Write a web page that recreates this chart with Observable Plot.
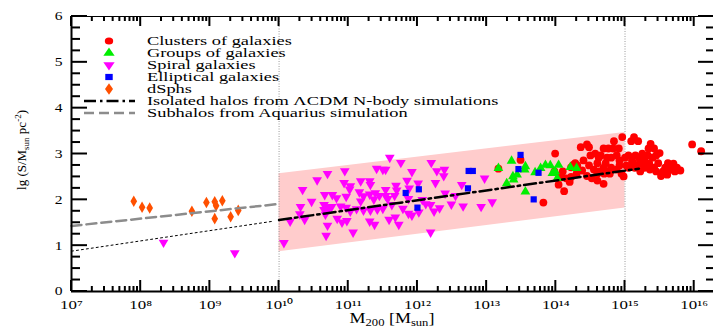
<!DOCTYPE html>
<html><head><meta charset="utf-8">
<script src="https://cdn.jsdelivr.net/npm/d3@7"></script>
<script src="https://cdn.jsdelivr.net/npm/@observablehq/plot@0.6"></script>
<style>
html,body{margin:0;padding:0;background:#fff;}
#chart{position:relative;width:713px;height:329px;overflow:hidden;}
</style></head><body><div id="chart"></div>
<script>
// ---- data: [log10 M200 (Msun), lg S (Msun pc^-2)] ----
const clusters = [[13.17,2.68],[13.49,2.87],[13.82,1.94],[13.99,3.01],[13.98,2.62],[14.04,2.33],[14.07,2.49],[14.12,2.19],[14.20,2.39],[14.22,2.50],[14.22,2.71],[14.28,2.80],[14.31,2.75],[14.36,3.15],[14.38,2.64],[14.40,2.86],[14.45,3.21],[14.48,3.15],[14.48,2.75],[14.50,2.97],[14.52,2.47],[14.55,2.66],[14.57,3.01],[14.60,2.80],[14.60,2.57],[14.60,2.42],[14.62,2.92],[14.62,2.62],[14.65,2.97],[14.69,3.12],[14.69,2.70],[14.69,2.35],[14.70,2.57],[14.72,2.80],[14.74,2.92],[14.75,2.62],[14.76,3.12],[14.78,2.57],[14.80,2.92],[14.80,2.70],[14.83,3.12],[14.84,3.28],[14.88,2.97],[14.88,2.66],[14.91,3.12],[14.92,2.86],[14.92,2.75],[14.95,2.57],[14.96,3.37],[14.98,2.51],[15.00,2.92],[15.02,2.75],[15.05,2.97],[15.05,2.70],[15.09,3.28],[15.10,2.86],[15.12,2.80],[15.13,3.37],[15.14,2.70],[15.15,2.97],[15.18,2.75],[15.19,3.28],[15.20,2.92],[15.22,2.80],[15.22,2.62],[15.25,3.01],[15.28,2.86],[15.28,2.70],[15.30,2.75],[15.33,2.97],[15.34,3.12],[15.35,2.80],[15.36,2.66],[15.37,3.22],[15.40,2.92],[15.42,3.12],[15.42,2.70],[15.45,2.97],[15.45,2.62],[15.48,2.80],[15.50,3.02],[15.52,2.52],[15.55,2.62],[15.58,2.70],[15.60,2.57],[15.61,2.55],[15.62,2.80],[15.67,2.66],[15.70,2.79],[15.72,2.62],[15.75,2.70],[15.80,2.64],[15.97,3.21],[16.10,3.06],[14.10,2.62],[14.05,2.52],[14.15,2.47],[14.30,2.57],[14.45,2.52],[14.30,2.69],[14.25,2.76]];
const groups = [[13.17,2.69],[13.29,2.36],[13.36,2.85],[13.38,2.51],[13.39,2.44],[13.44,2.55],[13.55,2.66],[13.56,2.73],[13.56,2.18],[13.70,2.60],[13.78,2.69],[13.85,2.76],[13.92,2.75],[13.95,2.58],[13.99,2.62],[14.02,2.47],[14.04,2.76],[14.21,2.71],[14.30,2.69]];
const spirals = [[8.33,1.07],[9.36,0.84],[10.07,1.06],[10.16,1.53],[10.30,1.69],[10.31,1.85],[10.34,2.22],[10.37,1.57],[10.47,1.96],[10.55,2.43],[10.65,1.89],[10.65,1.78],[10.66,2.11],[10.67,1.68],[10.68,1.22],[10.69,1.83],[10.70,2.57],[10.70,1.44],[10.72,1.80],[10.76,1.85],[10.77,2.11],[10.83,2.04],[10.84,1.59],[10.89,1.86],[10.91,1.51],[10.94,2.37],[10.95,2.63],[10.97,2.07],[10.97,1.83],[10.98,1.54],[11.02,2.23],[11.03,2.30],[11.03,1.75],[11.07,1.29],[11.12,1.80],[11.16,2.17],[11.18,2.41],[11.18,1.97],[11.22,2.08],[11.22,1.77],[11.31,2.41],[11.31,2.12],[11.31,1.53],[11.32,2.33],[11.32,1.77],[11.37,2.01],[11.38,1.46],[11.39,2.15],[11.41,2.68],[11.42,1.79],[11.45,2.09],[11.50,2.66],[11.50,1.81],[11.54,2.66],[11.54,2.22],[11.54,2.09],[11.57,2.02],[11.59,1.57],[11.60,2.92],[11.63,1.89],[11.67,2.09],[11.68,1.62],[11.69,2.31],[11.70,2.21],[11.73,1.46],[11.76,2.81],[11.79,1.81],[11.85,2.42],[11.87,2.02],[11.87,1.70],[11.88,2.25],[11.92,2.61],[11.92,1.66],[12.01,2.36],[12.02,1.73],[12.07,2.00],[12.12,1.91],[12.19,1.89],[12.19,1.29],[12.20,2.81],[12.24,1.75],[12.26,2.37],[12.28,2.63],[12.32,1.82],[12.38,2.52],[12.39,2.66],[12.40,2.14],[12.49,1.90],[12.55,2.09],[12.64,2.33],[12.66,1.86],[12.92,1.85],[12.97,2.47],[13.08,1.95]];
const ellipticals = [[11.83,2.15],[12.00,1.83],[12.02,2.23],[12.73,2.25],[12.74,2.63],[12.80,2.63],[13.46,2.67],[13.49,2.98],[13.68,2.01],[13.75,2.59]];
const dsphs = [[7.90,1.97],[8.02,1.84],[8.13,1.82],[8.74,1.75],[8.95,1.94],[9.07,1.96],[9.09,1.87],[9.18,1.98],[9.07,1.59],[9.30,1.63],[9.41,1.77]];

// model curves
const bandLogM = [10, 15], bandLow = [0.87, 1.82], bandHigh = [2.57, 3.47];
const isoLogM = [10, 15.2], isoLg = [1.56, 2.68];
const isoExtLogM = [7, 9.9], isoExtLg = [0.88, 1.53];
const subLogM = [7, 10], subLg = [1.43, 1.91];
const refLogM = [10, 15];

// axis ticks
const xDecades = [7,8,9,10,11,12,13,14,15,16];
const xSup = {7:"⁷",8:"⁸",9:"⁹",10:"¹⁰",11:"¹¹",12:"¹²",13:"¹³",14:"¹⁴",15:"¹⁵",16:"¹⁶"};
const yMajor = [0,1,2,3,4,5,6];

const legendLabels = ["Clusters of galaxies","Groups of galaxies","Spiral galaxies","Elliptical galaxies","dSphs","Isolated halos from ΛCDM N-body simulations","Subhalos from Aquarius simulation"];

const W = 713, H = 329, mL = 71, mR = 0, mT = 16, mB = 38;
const xMin = 1e7, xMax = 1.9e16, yMin = 0, yMax = 6;
const majorX = xDecades.map(k => 10 ** k);
const minorX = xDecades.flatMap(k => d3.range(2, 10).map(m => m * 10 ** k)).filter(v => v <= xMax);
const minorY = d3.range(0, 6, 0.25).filter(v => v % 1 !== 0);
const pts = a => a.map(([m, s]) => ({x: 10 ** m, y: s}));
const line = (ms, ys) => ms.map((m, i) => ({x: 10 ** m, y: ys[i]}));
const band = bandLogM.map((m, i) => ({x: 10 ** m, lo: bandLow[i], hi: bandHigh[i]}));

const serif = "Liberation Serif, Times New Roman, serif";
const svg = Plot.plot({
  width: W, height: H,
  marginLeft: mL, marginRight: mR, marginTop: mT, marginBottom: mB,
  x: {type: "log", domain: [xMin, xMax], axis: null},
  y: {domain: [yMin, yMax], axis: null},
  style: {fontFamily: serif, background: "#fff", color: "#000"},
  marks: [
    Plot.areaY(band, {x: "x", y1: "lo", y2: "hi", fill: "#ffcccc"}),
    Plot.ruleX(refLogM.map(m => 10 ** m), {stroke: "#9a9a9a", strokeWidth: 1, strokeDasharray: "1,1.5"}),
    Plot.dot(pts(clusters), {x: "x", y: "y", r: 3.9, fill: "#ff0000", symbol: "circle"}),
    Plot.dot(pts(groups), {x: "x", y: "y", r: 3.6, fill: "#00ee00", symbol: "triangle"}),
    Plot.dot(pts(spirals), {x: "x", y: "y", r: 3.6, fill: "#ff00ff", symbol: "triangle", rotate: 180}),
    Plot.dot(pts(ellipticals), {x: "x", y: "y", r: 3.5, fill: "#0000ff", symbol: "square"}),
    Plot.dot(pts(dsphs), {x: "x", y: "y", r: 3.5, fill: "#ff5000", symbol: "diamond"}),
    Plot.line(line(subLogM, subLg), {x: "x", y: "y", stroke: "#8c8c8c", strokeWidth: 2.5, strokeDasharray: "10,5"}),
    Plot.line(line(isoExtLogM, isoExtLg), {x: "x", y: "y", stroke: "#000", strokeWidth: 1, strokeDasharray: "2,3"}),
    Plot.line(line(isoLogM, isoLg), {x: "x", y: "y", stroke: "#000", strokeWidth: 2.5, strokeDasharray: "12,4,2.5,4"}),
    // tick labels
    Plot.axisX(majorX, {anchor: "bottom", tickSize: 0, tickPadding: 8, label: null, fontSize: 13, tickFormat: d => "10" + xSup[Math.round(Math.log10(d))]}),
    Plot.axisY(yMajor, {anchor: "left", tickSize: 0, tickPadding: 9, label: null, fontSize: 12, tickFormat: d => String(d)}),
    // frame lines
    Plot.ruleX([xMin], {strokeWidth: 2}),
    Plot.ruleY([yMin], {strokeWidth: 2}),
    Plot.ruleY([yMax], {strokeWidth: 1})
  ]
});

// horizontal stretch of tick labels (the reference is a horizontally stretched raster)
function stretch(sel, k) {
  sel.each(function () {
    const t = d3.select(this);
    const x = +t.attr("x") || 0, y = +t.attr("y") || 0;
    const tr = t.attr("transform") || "";
    t.attr("transform", `${tr} translate(${x},${y}) scale(${k},1) translate(${-x},${-y})`);
  });
}
stretch(d3.select(svg).selectAll("text"), 1.3);

const root = d3.select(svg);

// inward tick marks on all four sides, placed through the plot's own scales
const sx = v => svg.scale("x").apply(v);
const sy = v => svg.scale("y").apply(v);
const ticks = root.append("g").attr("stroke", "#000").attr("stroke-width", 2);
const x0 = sx(xMin), x1 = sx(xMax), y0 = sy(yMin), y1 = sy(yMax);
const tickSets = [
  {vals: majorX, dir: "x", len: 11, base: y0, s: -1},
  {vals: minorX, dir: "x", len: 5, base: y0, s: -1},
  {vals: majorX, dir: "x", len: 10, base: y1, s: 1},
  {vals: minorX, dir: "x", len: 5, base: y1, s: 1},
  {vals: yMajor, dir: "y", len: 16, base: x0, s: 1},
  {vals: minorY, dir: "y", len: 9, base: x0, s: 1},
  {vals: yMajor, dir: "y", len: 15, base: x1, s: -1},
  {vals: minorY, dir: "y", len: 7, base: x1, s: -1}
];
tickSets.forEach(t => {
  t.vals.forEach(v => {
    if (t.dir === "x") {
      const px = sx(v);
      ticks.append("line").attr("x1", px).attr("x2", px).attr("y1", t.base).attr("y2", t.base + t.s * t.len);
    } else {
      const py = sy(v);
      ticks.append("line").attr("y1", py).attr("y2", py).attr("x1", t.base).attr("x2", t.base + t.s * t.len);
    }
  });
});

const g = root.append("g").attr("font-family", serif).attr("fill", "#000").attr("text-anchor", "start");

// legend
const legSymbols = [
  {type: d3.symbolCircle, fill: "#ff0000", rot: 0},
  {type: d3.symbolTriangle, fill: "#00ee00", rot: 0},
  {type: d3.symbolTriangle, fill: "#ff00ff", rot: 180},
  {type: d3.symbolSquare, fill: "#0000ff", rot: 0},
  {type: d3.symbolDiamond, fill: "#ff5000", rot: 0}
];
const rowY = i => 41 + 12 * i;
legendLabels.forEach((lab, i) => {
  const y = rowY(i);
  if (i < 5) {
    const s = legSymbols[i];
    g.append("path").attr("d", d3.symbol(s.type, Math.PI * 3.5 * 3.5)())
      .attr("transform", `translate(109,${y}) scale(1.2,1) rotate(${s.rot})`).attr("fill", s.fill);
  } else if (i === 5) {
    g.append("line").attr("x1", 84).attr("x2", 135).attr("y1", y).attr("y2", y)
      .attr("stroke", "#000").attr("stroke-width", 2.5).attr("stroke-dasharray", "12,4,2.5,4");
  } else {
    g.append("line").attr("x1", 84).attr("x2", 135).attr("y1", y).attr("y2", y)
      .attr("stroke", "#8c8c8c").attr("stroke-width", 2.5).attr("stroke-dasharray", "10,5");
  }
  g.append("text").attr("x", 147).attr("y", y + 4).attr("font-size", 12.5)
    .attr("transform", `translate(147,${y + 4}) scale(1.47,1) translate(-147,${-(y + 4)})`)
    .text(lab);
});

// y-axis title
const yt = g.append("text").attr("transform", "translate(26,150) rotate(-90)")
  .attr("text-anchor", "middle").attr("font-size", 13);
yt.append("tspan").text("lg (S/M");
yt.append("tspan").attr("dy", 3).attr("font-size", 9).text("sun");
yt.append("tspan").attr("dy", -3).text(" pc");
yt.append("tspan").attr("dy", -5).attr("font-size", 9).text("-2");
yt.append("tspan").attr("dy", 5).text(")");

// x-axis title
const xt = g.append("text").attr("x", 392).attr("y", 323).attr("text-anchor", "middle").attr("font-size", 15)
  .attr("transform", "translate(392,323) scale(1.2,1) translate(-392,-323)");
xt.append("tspan").text("M");
xt.append("tspan").attr("dy", 3).attr("font-size", 10.5).text("200");
xt.append("tspan").attr("dy", -3).text(" [M");
xt.append("tspan").attr("dy", 3).attr("font-size", 10.5).text("sun");
xt.append("tspan").attr("dy", -3).text("]");

document.getElementById("chart").appendChild(svg);
</script>
</body></html>
